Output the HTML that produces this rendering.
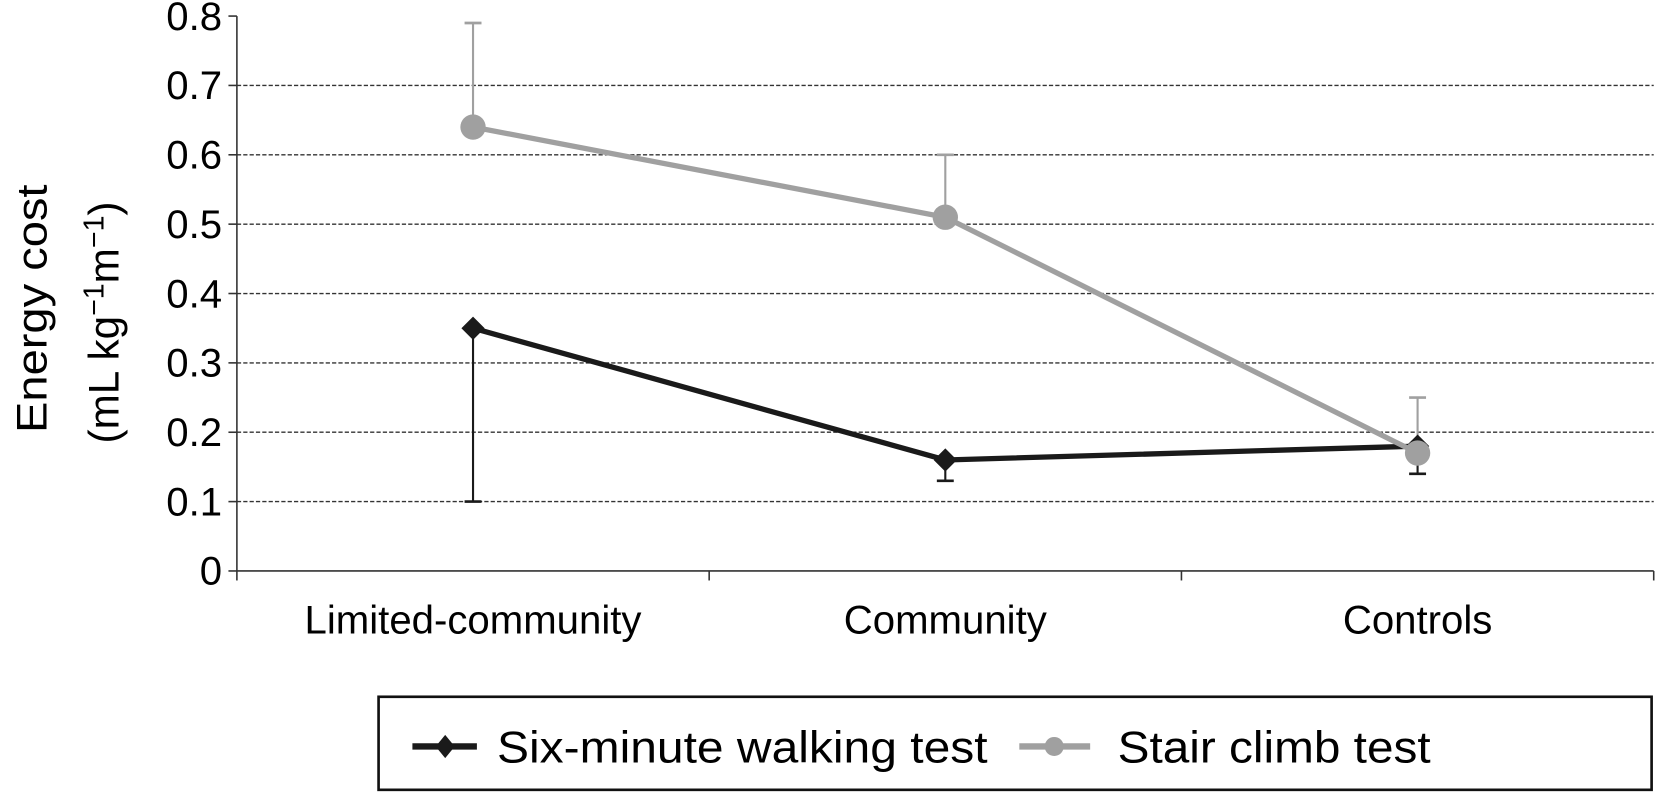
<!DOCTYPE html>
<html><head><meta charset="utf-8"><style>
body{margin:0;background:#fff;}
svg text{font-family:"Liberation Sans",sans-serif;}
</style></head><body>
<svg id="chart" width="1658" height="793" viewBox="0 0 1568 750" xmlns="http://www.w3.org/2000/svg">
<g id="grid"></g>
<g id="axes"></g>
<g id="series"></g>
<text transform="translate(44,292) rotate(-90)" text-anchor="middle" font-size="40" textLength="235" lengthAdjust="spacingAndGlyphs">Energy cost</text>
<text transform="translate(112,305) rotate(-90)" text-anchor="middle" font-size="40">(mL kg<tspan dy="-14" font-size="27">−1</tspan><tspan dy="14">m</tspan><tspan dy="-14" font-size="27">−1</tspan><tspan dy="14">)</tspan></text>
<g>
<rect x="358" y="659" width="1204" height="88" fill="none" stroke="#111" stroke-width="2.5"/>
<line x1="390" y1="706" x2="451" y2="706" stroke="#1a1a1a" stroke-width="6"/>
<path d="M421 695 L430 706 L421 717 L412 706 Z" fill="#1a1a1a"/>
<text x="470" y="721" font-size="42" textLength="464" lengthAdjust="spacingAndGlyphs">Six-minute walking test</text>
<line x1="964" y1="706" x2="1031" y2="706" stroke="#a0a0a0" stroke-width="6"/>
<circle cx="997" cy="706" r="9" fill="#a0a0a0"/>
<text x="1057" y="721" font-size="42" textLength="296" lengthAdjust="spacingAndGlyphs">Stair climb test</text>
</g>
</svg>
<script>
const categories=["Limited-community","Community","Controls"];
const yTicks=[0,0.1,0.2,0.3,0.4,0.5,0.6,0.7,0.8];
const sixMin=[0.35,0.16,0.18];
const sixMinLow=[0.10,0.13,0.14];
const stair=[0.64,0.51,0.17];
const stairHigh=[0.79,0.60,0.25];
const NS="http://www.w3.org/2000/svg";
const x0=224,x1=1564,yBase=540,yPer=656;
function y(v){return yBase-v*yPer;}
function xc(i){return x0+(x1-x0)/categories.length*(i+0.5);}
function mk(t,a,p){const e=document.createElementNS(NS,t);for(const k in a)e.setAttribute(k,a[k]);p.appendChild(e);return e;}
const grid=document.getElementById('grid'),axes=document.getElementById('axes'),ser=document.getElementById('series');
yTicks.forEach(v=>{
 if(v>0&&v<0.8){const l=mk('line',{x1:x0,x2:x1,y1:y(v),y2:y(v),stroke:'#333','stroke-width':1.3,'stroke-dasharray':'4,2'},grid);
 
 }
 const tk=mk('line',{x1:x0-8,x2:x0,y1:y(v),y2:y(v),stroke:'#333','stroke-width':1.5},axes);
 
 
 const t=mk('text',{x:x0-14,y:y(v)+13,'text-anchor':'end','font-size':38},axes);t.textContent=String(v);
 
 
});
mk('line',{x1:x0,x2:x0,y1:y(0.8),y2:yBase,stroke:'#333','stroke-width':1.5},axes);
mk('line',{x1:x0,x2:x1,y1:yBase,y2:yBase,stroke:'#333','stroke-width':1.5},axes);
for(let i=0;i<=categories.length;i++){const xx=x0+(x1-x0)/categories.length*i;mk('line',{x1:xx,x2:xx,y1:yBase,y2:yBase+9,stroke:'#333','stroke-width':1.5},axes);}
categories.forEach((c,i)=>{const t=mk('text',{x:xc(i),y:599,'text-anchor':'middle','font-size':38},axes);t.textContent=c;
 
 });
sixMin.forEach((v,i)=>{mk('line',{x1:xc(i),x2:xc(i),y1:y(v),y2:y(sixMinLow[i]),stroke:'#1a1a1a','stroke-width':2},ser);
 mk('line',{x1:xc(i)-8,x2:xc(i)+8,y1:y(sixMinLow[i]),y2:y(sixMinLow[i]),stroke:'#1a1a1a','stroke-width':2.5},ser);});
stair.forEach((v,i)=>{mk('line',{x1:xc(i),x2:xc(i),y1:y(v),y2:y(stairHigh[i]),stroke:'#a0a0a0','stroke-width':2},ser);
 mk('line',{x1:xc(i)-8,x2:xc(i)+8,y1:y(stairHigh[i]),y2:y(stairHigh[i]),stroke:'#a0a0a0','stroke-width':2.5},ser);});
const p1=mk('polyline',{points:sixMin.map((v,i)=>xc(i)+','+y(v)).join(' '),fill:'none',stroke:'#1a1a1a','stroke-width':5},ser);


sixMin.forEach((v,i)=>{const d=mk('path',{d:`M${xc(i)} ${y(v)-11} L${xc(i)+11} ${y(v)} L${xc(i)} ${y(v)+11} L${xc(i)-11} ${y(v)} Z`,fill:'#1a1a1a'},ser);
 
 });
const p2=mk('polyline',{points:stair.map((v,i)=>xc(i)+','+y(v)).join(' '),fill:'none',stroke:'#a0a0a0','stroke-width':5},ser);


stair.forEach((v,i)=>{const c=mk('circle',{cx:xc(i),cy:y(v),r:12,fill:'#a0a0a0'},ser);
 
 });
</script>
</body></html>
